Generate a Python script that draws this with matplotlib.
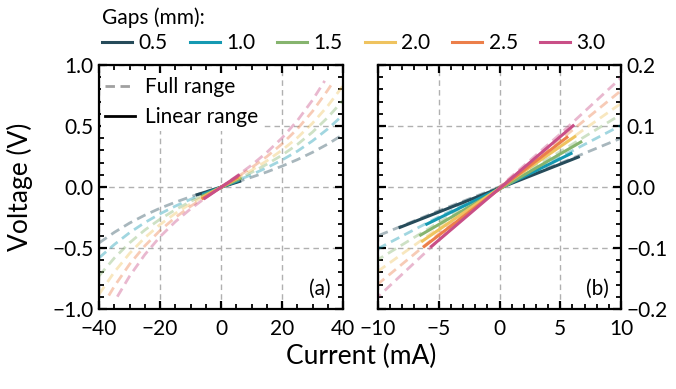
import numpy as np
import matplotlib
matplotlib.use("Agg")
import matplotlib.pyplot as plt
from matplotlib.lines import Line2D
from matplotlib.ticker import MultipleLocator

plt.rcParams['font.family'] = ['Lato', 'DejaVu Sans']

# -------------------------------------------------------------------------
# Data (current in mA, voltage in V)
# -------------------------------------------------------------------------
gaps = ['0.5', '1.0', '1.5', '2.0', '2.5', '3.0']
colors = ['#264b5a', '#1599b2', '#86b46e', '#efc35f', '#ec7f4a', '#c94f87']

I_full = {
    '0.5': [-40, -35, -30, -25, -20, -15, -10, -5, 0, 5, 10, 15, 20, 25, 30, 35, 40],
    '1.0': [-40, -35, -30, -25, -20, -15, -10, -5, 0, 5, 10, 15, 20, 25, 30, 35, 40],
    '1.5': [-40, -35, -30, -25, -20, -15, -10, -5, 0, 5, 10, 15, 20, 25, 30, 35, 40],
    '2.0': [-40, -35, -30, -25, -20, -15, -10, -5, 0, 5, 10, 15, 20, 25, 30, 35, 40],
    '2.5': [-36.8, -35, -30, -25, -20, -15, -10, -5, 0, 5, 10, 15, 20, 25, 30, 35, 37],
    '3.0': [-34, -30, -25, -20, -15, -10, -5, 0, 5, 10, 15, 20, 25, 30, 34],
}
V_full = {
    '0.5': [-0.459, -0.372, -0.296, -0.231, -0.174, -0.125, -0.080, -0.039, 0,
            0.039, 0.080, 0.123, 0.171, 0.224, 0.284, 0.352, 0.430],
    '1.0': [-0.581, -0.472, -0.375, -0.292, -0.220, -0.157, -0.101, -0.049, 0,
            0.049, 0.101, 0.158, 0.221, 0.293, 0.378, 0.476, 0.590],
    '1.5': [-0.729, -0.583, -0.458, -0.353, -0.264, -0.187, -0.119, -0.058, 0,
            0.058, 0.119, 0.186, 0.261, 0.348, 0.450, 0.570, 0.710],
    '2.0': [-0.880, -0.698, -0.545, -0.416, -0.308, -0.217, -0.138, -0.067, 0,
            0.067, 0.137, 0.214, 0.302, 0.403, 0.523, 0.664, 0.830],
    '2.5': [-0.890, -0.815, -0.634, -0.483, -0.357, -0.250, -0.159, -0.077, 0,
            0.077, 0.158, 0.249, 0.353, 0.475, 0.620, 0.794, 0.870],
    '3.0': [-0.899, -0.732, -0.555, -0.408, -0.285, -0.180, -0.087, 0,
            0.087, 0.179, 0.283, 0.402, 0.543, 0.712, 0.870],
}

# linear range end points
I_lin = {
    '0.5': [-8.3, 6.6], '1.0': [-6.1, 6.0], '1.5': [-6.6, 6.8],
    '2.0': [-6.45, 6.3], '2.5': [-6.3, 5.65], '3.0': [-5.7, 6.15],
}
V_lin = {
    '0.5': [-0.067, 0.050], '1.0': [-0.062, 0.056], '1.5': [-0.080, 0.075],
    '2.0': [-0.090, 0.084], '2.5': [-0.099, 0.083], '3.0': [-0.099, 0.102],
}

# -------------------------------------------------------------------------
# Figure
# -------------------------------------------------------------------------
W, H = 676, 389
fig = plt.figure(figsize=(W / 100, H / 100), dpi=100)
ax_a = fig.add_axes([99 / W, 1 - 309 / H, 244 / W, 244 / H])
ax_b = fig.add_axes([378 / W, 1 - 309 / H, 243 / W, 244 / H])

fs = 15
dash = (0, (3.4, 2))
for ax in (ax_a, ax_b):
    for g, c in zip(gaps, colors):
        ax.plot(I_full[g], V_full[g], color=c, lw=2, ls=dash, alpha=0.4,
                zorder=2)
    for g, c in zip(gaps, colors):
        ax.plot(I_lin[g], V_lin[g], color=c, lw=2.2, solid_capstyle='butt',
                zorder=3)
    ax.grid(True, color='#b0b0b0', ls=(0, (4, 3)), lw=1)
    ax.set_axisbelow(True)
    ax.tick_params(which='both', direction='in', top=True, bottom=True,
                   left=True, right=True, labelsize=fs, width=1.6, pad=4)
    ax.tick_params(axis='x', which='both', pad=7)
    ax.tick_params(which='major', length=6)
    ax.tick_params(which='minor', length=3.5, width=1.3)
    for s in ax.spines.values():
        s.set_linewidth(1.6)

ax_a.set_xlim(-40, 40)
ax_a.set_ylim(-1, 1)
ax_a.xaxis.set_major_locator(MultipleLocator(20))
ax_a.xaxis.set_minor_locator(MultipleLocator(5))
ax_a.yaxis.set_major_locator(MultipleLocator(0.5))
ax_a.yaxis.set_minor_locator(MultipleLocator(0.1))

ax_b.set_xlim(-10, 10)
ax_b.set_ylim(-0.2, 0.2)
ax_b.xaxis.set_major_locator(MultipleLocator(5))
ax_b.xaxis.set_minor_locator(MultipleLocator(1))
ax_b.yaxis.set_major_locator(MultipleLocator(0.1))
ax_b.yaxis.set_minor_locator(MultipleLocator(0.02))
ax_b.tick_params(labelleft=False, labelright=True)

ax_a.text(0.95, 0.04, '(a)', transform=ax_a.transAxes, ha='right', va='bottom',
          fontsize=fs)
ax_b.text(0.95, 0.04, '(b)', transform=ax_b.transAxes, ha='right', va='bottom',
          fontsize=fs)

fig.text(361 / W, 1 - 356 / H, 'Current (mA)', ha='center', va='center',
         fontsize=19)
fig.text(20 / W, 1 - 187 / H, 'Voltage (V)', ha='center', va='center',
         rotation=90, fontsize=19)

# legend inside (a)
style_handles = [Line2D([], [], color='#a0a0a0', lw=2, ls=dash),
                 Line2D([], [], color='black', lw=2)]
leg_in = ax_a.legend(style_handles, ['Full range', 'Linear range'], loc='upper left',
                     bbox_to_anchor=(0.008, 0.966), fontsize=fs, frameon=True,
                     framealpha=1, edgecolor='none', fancybox=False,
                     handlelength=1.45, handletextpad=0.45, borderaxespad=0,
                     borderpad=0.2, labelspacing=0.45)

# top legend with the gaps
gap_handles = [Line2D([], [], color=c, lw=2.2) for c in colors]
leg_top = fig.legend(gap_handles, gaps, loc='upper left', ncol=6,
                     bbox_to_anchor=(96 / W, 1 - 1 / H), fontsize=fs,
                     title='Gaps (mm):', title_fontsize=fs, alignment='left',
                     frameon=False, handlelength=1.45, handletextpad=0.3,
                     columnspacing=1.05, borderaxespad=0, borderpad=0.3,
                     labelspacing=0.25)

fig.savefig('out.png', dpi=100)
